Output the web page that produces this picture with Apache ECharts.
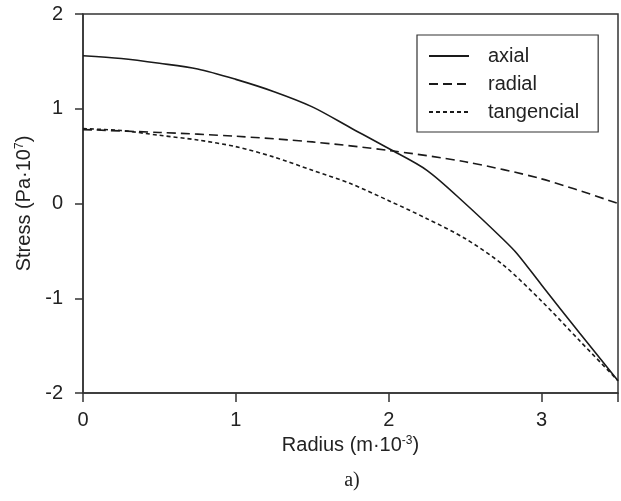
<!DOCTYPE html>
<html>
<head>
<meta charset="utf-8">
<script src="https://cdn.jsdelivr.net/npm/echarts@6/dist/echarts.min.js"></script>
<style>html,body{margin:0;padding:0;background:#fff;}#c{width:621px;height:501px;}</style>
</head>
<body>
<div id="c"></div>
<script>
const radius = [0, 0.25, 0.5, 0.75, 1.0, 1.25, 1.5, 1.75, 2.0, 2.25, 2.5, 2.75, 2.84, 3.0, 3.25, 3.5];
const axial = [1.56, 1.53, 1.48, 1.42, 1.31, 1.18, 1.02, 0.80, 0.58, 0.35, 0.0, -0.38, -0.53, -0.86, -1.37, -1.87];
const radialX = [0, 0.5, 1.0, 1.5, 2.0, 2.5, 3.0, 3.5];
const radial = [0.78, 0.75, 0.71, 0.65, 0.56, 0.44, 0.26, 0.0];
const tangX = [0, 0.25, 0.5, 0.75, 1.0, 1.25, 1.5, 1.75, 2.0, 2.25, 2.5, 2.75, 3.0, 3.25, 3.5];
const tangencial = [0.79, 0.77, 0.72, 0.67, 0.60, 0.49, 0.35, 0.21, 0.03, -0.16, -0.37, -0.65, -1.03, -1.45, -1.87];
const xTicks = [0, 1, 2, 3];
const yTicks = [-2, -1, 0, 1, 2];
const seriesNames = ['axial', 'radial', 'tangencial'];

function pairs(xs, ys) { return xs.map((x, i) => [x, ys[i]]); }

const font = 'Liberation Sans, Arial, sans-serif';
const txt = '#222';
const chart = echarts.init(document.getElementById('c'), null, {renderer: 'canvas'});
chart.setOption({
  animation: false,
  backgroundColor: '#fff',
  grid: {left: 83, right: 3, top: 14, bottom: 108, show: true, borderColor: '#333', borderWidth: 1.5, backgroundColor: 'transparent'},
  legend: {
    orient: 'vertical', left: 417, top: 35,
    data: seriesNames,
    itemWidth: 40, itemHeight: 14, itemGap: 6,
    padding: [10, 19, 9, 11],
    borderColor: '#333', borderWidth: 1.2, borderRadius: 0,
    itemStyle: {opacity: 0},
    textStyle: {fontFamily: font, fontSize: 20, lineHeight: 22, color: txt, padding: [0, 0, 0, 14]}
  },
  xAxis: {
    type: 'value', min: 0, max: 3.5, interval: 1,
    name: 'Radius (m·10{s|-3})', nameLocation: 'middle', nameGap: 40,
    nameTextStyle: {fontFamily: font, fontSize: 20, color: txt, rich: {s: {fontSize: 12, verticalAlign: 'top', padding: [0, 0, 9, 0], fontFamily: font, color: txt}}},
    axisLine: {show: true, onZero: false, lineStyle: {color: '#333', width: 1.5}},
    axisTick: {show: true, inside: false, length: 9, lineStyle: {color: '#333', width: 1.5}},
    axisLabel: {fontFamily: font, fontSize: 20, color: txt, margin: 17,
      formatter: v => (xTicks.indexOf(v) >= 0 ? String(v) : '')},
    splitLine: {show: false}
  },
  yAxis: {
    type: 'value', min: -2, max: 2, interval: 1,
    name: 'Stress (Pa·10{s|7})', nameLocation: 'middle', nameGap: 46,
    nameTextStyle: {fontFamily: font, fontSize: 20, color: txt, rich: {s: {fontSize: 12, verticalAlign: 'top', padding: [0, 0, 9, 0], fontFamily: font, color: txt}}},
    axisLine: {show: true, onZero: false, lineStyle: {color: '#333', width: 1.5}},
    axisTick: {show: true, inside: false, length: 8, lineStyle: {color: '#333', width: 1.5}},
    axisLabel: {fontFamily: font, fontSize: 20, color: txt, margin: 20,
      formatter: v => (yTicks.indexOf(v) >= 0 ? String(v) : '')},
    splitLine: {show: false}
  },
  series: [
    {name: 'axial', type: 'line', data: pairs(radius, axial), smooth: 0.3, symbol: 'none',
      lineStyle: {color: '#1a1a1a', width: 1.6, type: 'solid'}, itemStyle: {color: '#1a1a1a'}},
    {name: 'radial', type: 'line', data: pairs(radialX, radial), smooth: 0.3, symbol: 'none',
      lineStyle: {color: '#1a1a1a', width: 1.6, type: [9, 5]}, itemStyle: {color: '#1a1a1a'}},
    {name: 'tangencial', type: 'line', data: pairs(tangX, tangencial), smooth: 0.3, symbol: 'none',
      lineStyle: {color: '#1a1a1a', width: 1.6, type: [4, 3]}, itemStyle: {color: '#1a1a1a'}}
  ],
  graphic: [
    {type: 'text', x: 352, y: 481, style: {text: 'a)', fontFamily: 'Liberation Serif, Times New Roman, serif', fontSize: 20, fill: txt, textAlign: 'center', textVerticalAlign: 'middle'}}
  ]
});
</script>
</body>
</html>
